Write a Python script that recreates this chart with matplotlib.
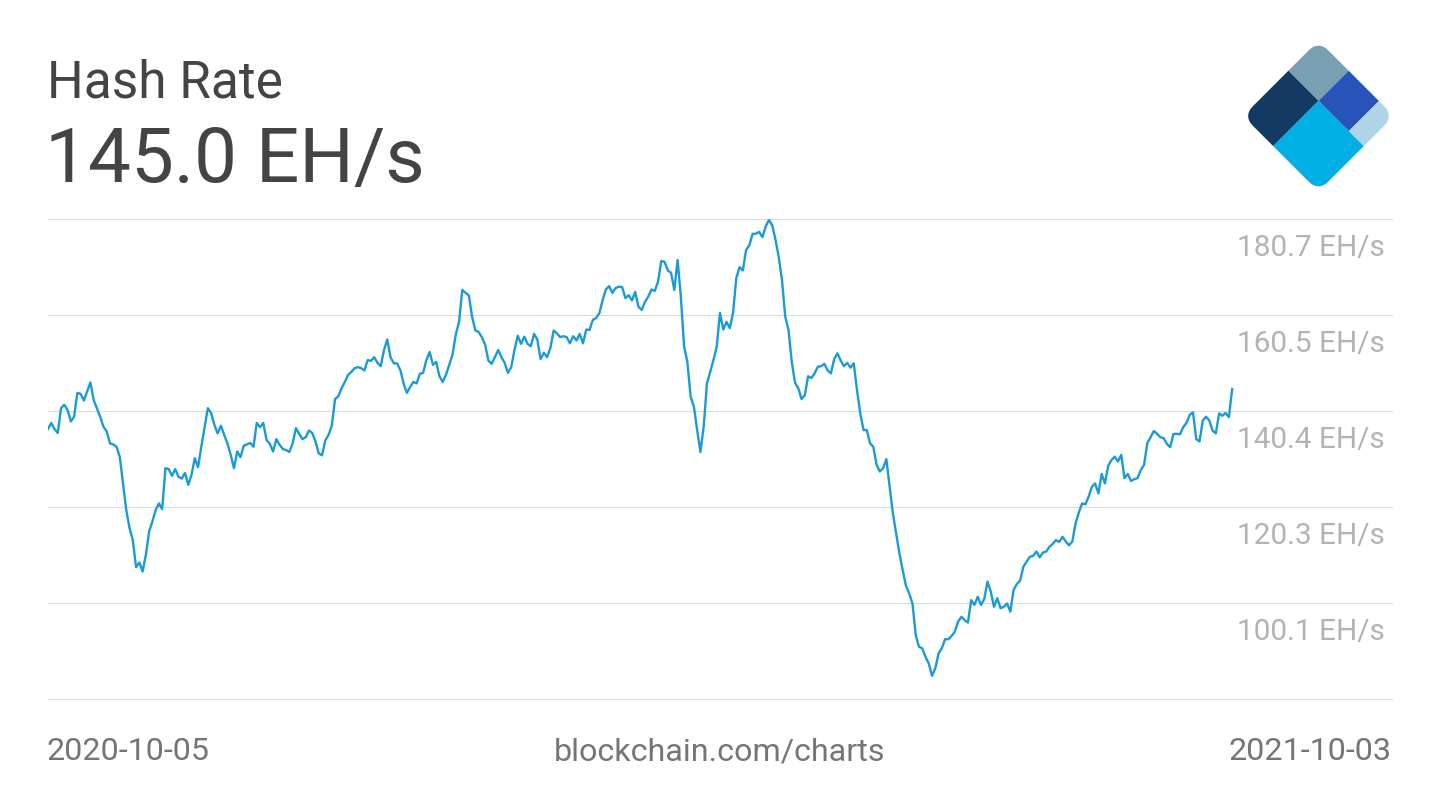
import numpy as np
import matplotlib
matplotlib.use("Agg")
import matplotlib.pyplot as plt
from matplotlib.patches import Polygon, FancyBboxPatch
from matplotlib.transforms import Affine2D

plt.rcParams['font.family'] = ['Roboto', 'DejaVu Sans']

# data (daily hash rate, EH/s)
start_date = np.datetime64('2020-10-05')
day_offsets = [
    0, 1, 2, 3, 4, 5, 6, 7, 8, 9, 10, 11, 13, 14, 16, 17, 18, 19, 20, 21,
    22, 23, 24, 25, 26, 27, 28, 29, 30, 31, 32, 33, 34, 35, 36, 37, 38, 39, 40, 41,
    42, 43, 44, 45, 46, 47, 49, 50, 51, 52, 53, 54, 55, 56, 57, 58, 59, 60, 62, 63,
    64, 65, 66, 67, 68, 69, 70, 71, 72, 73, 74, 75, 76, 77, 78, 79, 80, 81, 82, 83,
    84, 85, 86, 87, 88, 89, 90, 91, 92, 93, 94, 95, 96, 97, 98, 99, 100, 101, 102, 103,
    104, 105, 106, 107, 108, 109, 110, 111, 112, 113, 114, 115, 116, 117, 118, 119, 120, 121, 122, 123,
    124, 125, 126, 127, 128, 129, 130, 131, 132, 133, 134, 135, 136, 137, 138, 139, 140, 141, 142, 143,
    144, 145, 146, 147, 148, 149, 150, 151, 152, 153, 154, 155, 156, 157, 158, 159, 160, 161, 162, 163,
    164, 165, 166, 167, 168, 169, 170, 171, 172, 173, 174, 175, 176, 177, 178, 179, 180, 181, 182, 183,
    184, 185, 186, 187, 188, 189, 190, 191, 192, 193, 194, 195, 196, 197, 198, 199, 200, 201, 202, 203,
    204, 205, 206, 207, 208, 209, 210, 211, 212, 213, 214, 215, 216, 217, 218, 219, 220, 221, 222, 223,
    224, 225, 226, 227, 228, 229, 230, 231, 232, 233, 234, 235, 236, 237, 238, 239, 240, 241, 242, 243,
    244, 245, 246, 247, 248, 249, 250, 251, 252, 253, 254, 255, 256, 257, 258, 259, 260, 261, 262, 263,
    264, 265, 266, 267, 268, 269, 270, 271, 272, 273, 274, 275, 276, 277, 278, 279, 280, 281, 282, 283,
    284, 285, 286, 287, 288, 289, 290, 291, 292, 293, 294, 295, 296, 297, 298, 299, 300, 301, 302, 303,
    304, 305, 306, 307, 308, 309, 310, 311, 312, 313, 314, 315, 316, 317, 318, 319, 320, 321, 322, 323,
    324, 325, 326, 327, 328, 329, 330, 331, 332, 333, 334, 335, 336, 337, 338, 339, 340, 341, 342, 343,
    344, 345, 346, 347, 348, 349, 350, 351, 352, 353, 354, 355, 356, 357, 358, 359, 360, 361, 362, 363,
]
hash_rate = [
    136.6, 137.9, 136.6, 135.8, 141.0, 141.7, 140.6, 138.2, 139.2, 144.2, 144.0, 142.6, 146.4, 142.7, 139.2, 137.1, 136.1, 133.6, 133.4, 132.9,
    130.8, 125.2, 119.6, 115.8, 113.3, 107.6, 108.6, 106.7, 110.2, 115.1, 117.2, 119.6, 121.0, 119.8, 128.4, 128.2, 126.8, 128.2, 126.6, 126.2,
    127.4, 124.9, 127.0, 130.5, 128.6, 132.9, 141.0, 140.0, 137.5, 135.7, 137.3, 135.4, 133.6, 131.2, 128.4, 131.9, 130.7, 133.1, 133.7, 132.9,
    137.9, 137.0, 137.9, 134.3, 133.5, 131.9, 134.5, 133.3, 132.4, 132.2, 131.8, 133.6, 136.8, 135.6, 134.5, 134.9, 136.3, 135.8, 134.0, 131.5,
    131.1, 134.2, 135.4, 137.3, 142.9, 143.5, 145.2, 146.5, 148.0, 148.6, 149.4, 149.6, 149.4, 148.9, 151.1, 150.9, 151.7, 150.5, 149.8, 153.2,
    155.4, 151.7, 150.4, 150.4, 149.0, 146.2, 144.2, 145.4, 146.5, 146.2, 148.2, 148.4, 151.1, 152.8, 150.1, 150.7, 147.7, 146.5, 148.0, 150.1,
    152.2, 156.4, 159.1, 165.8, 165.2, 164.7, 160.2, 157.3, 157.0, 155.9, 154.3, 151.0, 150.3, 151.7, 153.2, 151.7, 150.5, 148.4, 149.6, 153.2,
    156.2, 154.5, 156.0, 154.5, 154.0, 156.6, 155.4, 151.3, 152.6, 151.7, 153.6, 157.3, 156.7, 155.9, 156.1, 155.9, 154.6, 156.1, 155.2, 156.6,
    154.6, 157.5, 157.4, 159.5, 159.9, 160.9, 163.6, 165.9, 166.6, 165.2, 166.2, 166.5, 166.4, 164.1, 164.7, 163.6, 165.4, 162.3, 161.6, 163.3,
    164.4, 165.9, 165.6, 167.5, 171.9, 171.7, 169.9, 169.4, 165.8, 172.1, 164.4, 153.9, 150.7, 143.4, 141.3, 136.4, 131.8, 137.1, 146.2, 148.6,
    151.1, 153.9, 161.0, 157.5, 159.1, 157.8, 161.0, 168.3, 170.6, 169.9, 174.2, 175.2, 177.6, 177.6, 178.0, 176.9, 179.1, 180.5, 179.4, 176.4,
    172.8, 167.9, 160.2, 157.4, 150.7, 146.3, 145.2, 142.9, 143.7, 147.7, 147.3, 148.3, 149.7, 149.8, 150.3, 148.9, 148.3, 151.3, 152.5, 151.0,
    149.8, 150.5, 149.5, 150.4, 144.8, 139.9, 136.4, 136.4, 133.6, 132.9, 129.1, 127.7, 128.4, 130.3, 124.5, 118.9, 114.7, 110.5, 107.0, 103.7,
    102.1, 100.0, 93.4, 90.9, 90.6, 88.8, 87.4, 84.8, 86.4, 89.5, 90.6, 92.5, 92.5, 93.2, 94.1, 96.2, 97.2, 96.5, 96.0, 100.7,
    99.7, 101.4, 99.7, 100.9, 104.6, 102.5, 99.3, 101.1, 99.0, 99.3, 100.0, 98.3, 102.8, 104.1, 104.8, 107.7, 108.8, 109.8, 110.0, 110.9,
    109.7, 110.7, 110.9, 111.9, 112.5, 113.3, 112.9, 114.0, 113.0, 112.2, 113.0, 116.8, 119.1, 121.0, 120.8, 122.4, 124.5, 125.2, 123.1, 127.2,
    125.2, 128.9, 130.1, 130.8, 129.8, 131.2, 126.3, 127.2, 125.7, 126.1, 126.3, 128.0, 129.1, 133.7, 134.9, 136.2, 135.6, 134.9, 134.7, 133.5,
    132.8, 135.6, 135.6, 135.5, 137.0, 137.9, 139.6, 140.1, 134.5, 134.0, 138.4, 139.2, 138.4, 136.3, 135.7, 139.9, 139.4, 140.0, 139.1, 145.0,
]
grid_values = [180.7, 160.55, 140.4, 120.25, 100.1, 79.95]
tick_labels = ['180.7 EH/s', '160.5 EH/s', '140.4 EH/s', '120.3 EH/s', '100.1 EH/s']
first_label = '2020-10-05'
last_label = '2021-10-03'
current_value = '145.0 EH/s'

W, H = 1440, 810
fig = plt.figure(figsize=(W / 100, H / 100), dpi=100)
fig.patch.set_facecolor('white')

ax = fig.add_axes([48 / W, 111 / H, 1344 / W, 480 / H])
dates = start_date + np.array(day_offsets).astype('timedelta64[D]')
ax.plot(dates, hash_rate, color='#1a9bd7', lw=1.7, zorder=3)
ax.set_xlim(start_date, start_date + np.timedelta64(412, 'D'))
ax.set_ylim(grid_values[-1], grid_values[0])
for g in grid_values:
    ax.axhline(g, color='#dcdcdc', lw=0.8, zorder=1, clip_on=False)
for g, lab in zip(grid_values, tick_labels):
    ax.annotate(lab, xy=(1, g), xycoords=('axes fraction', 'data'),
                xytext=(-7, -37), textcoords='offset pixels',
                ha='right', va='baseline', fontsize=21.4, color='#b3b3b3')
for s in ax.spines.values():
    s.set_visible(False)
ax.set_xticks([])
ax.set_yticks([])

# titles
fig.text(47 / W, (H - 97) / H, 'Hash Rate', fontsize=37, color='#444444', va='baseline')
fig.text(45 / W, (H - 182) / H, current_value, fontsize=55, color='#444444', va='baseline')

# footer
fig.text(47 / W, (H - 752) / H, first_label, fontsize=23.2, color='#757575', ha='left', va='center')
fig.text(1392 / W, (H - 752) / H, last_label, fontsize=23.2, color='#757575', ha='right', va='center')
fig.text(720 / W, (H - 752) / H, 'blockchain.com/charts', fontsize=23.2, color='#757575', ha='center', va='center')

# logo
over = fig.add_axes([0, 0, 1, 1])
over.set_xlim(0, W)
over.set_ylim(0, H)
over.axis('off')
over.patch.set_alpha(0)
tr = Affine2D().translate(-0.5, -0.5).rotate_deg(-45).scale(107).translate(1318.5, H - 116) + over.transData
clip = FancyBboxPatch((0, 0), 1, 1, boxstyle='round,pad=0,rounding_size=0.14',
                      transform=tr, facecolor='none', edgecolor='none')
over.add_patch(clip)
pieces = [
    (0.0, 0.4, 0.6, 1.0, '#7a9fb3'),
    (0.0, 0.4, 0.0, 0.6, '#133a62'),
    (0.4, 0.8, 0.6, 1.0, '#2853bb'),
    (0.8, 1.0, 0.6, 1.0, '#afd4e5'),
    (0.4, 1.0, 0.0, 0.6, '#00b0e4'),
]
for a0, a1, b0, b1, c in pieces:
    p = Polygon([(a0, b0), (a1, b0), (a1, b1), (a0, b1)], closed=True,
                transform=tr, facecolor=c, edgecolor='none')
    over.add_patch(p)
    p.set_clip_path(clip)

fig.savefig('out.png', dpi=100)
